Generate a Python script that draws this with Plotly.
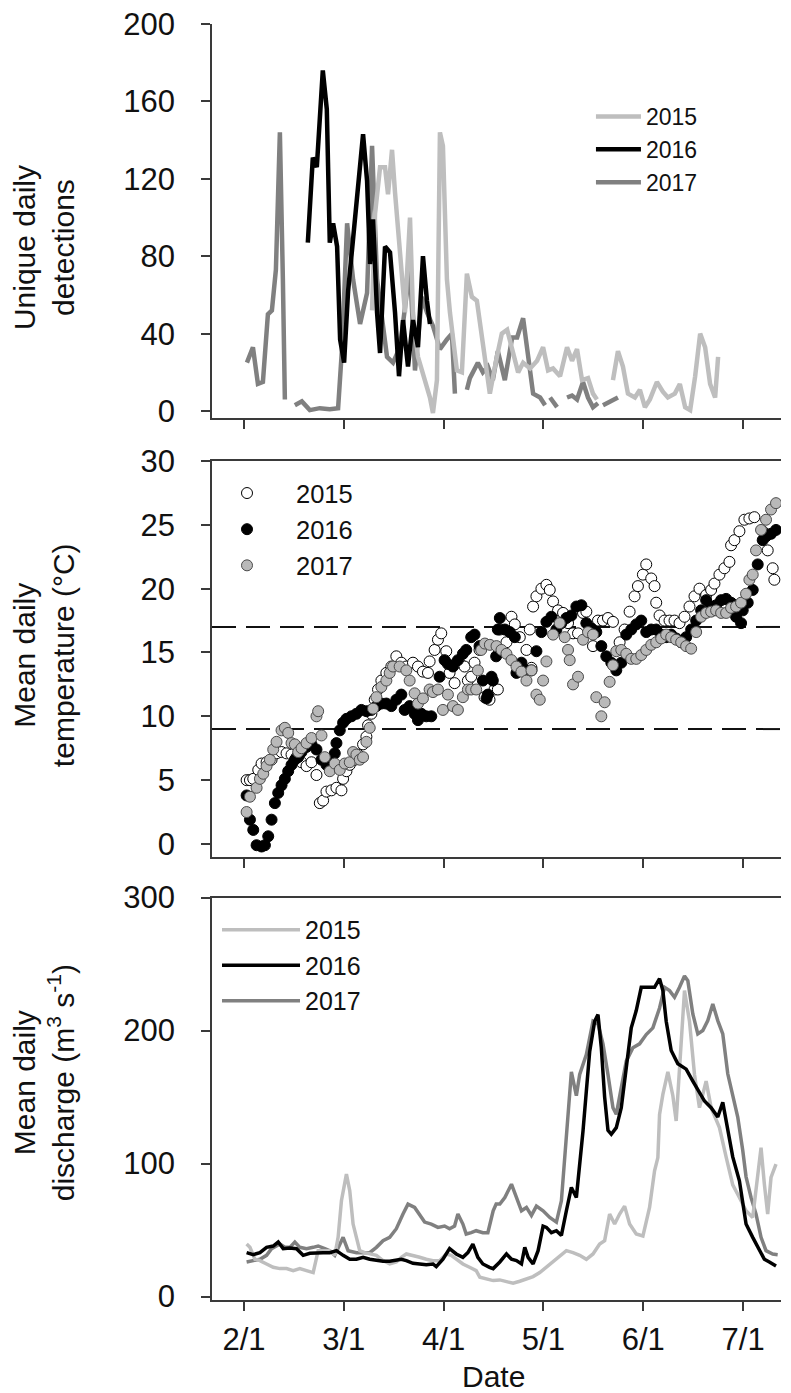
import plotly.graph_objects as go

# ---------------- categories / ticks ----------------
TICK_DAYS = [0, 30, 60, 90, 120, 150]          # days after Feb 1 (axis ticks are evenly spaced)
TICK_LABELS = ["2/1", "3/1", "4/1", "5/1", "6/1", "7/1"]
YEARS = ["2015", "2016", "2017"]

# ---------------- panel A: unique daily detections ----------------
det15_day = [38.5, 39.4, 40.9, 42.4, 43.3, 44.5, 45.4, 46.9, 48.4, 49.9, 50.8, 52.3, 54.4, 55.9, 56.8,
             58.0, 58.9, 59.8, 61.0, 61.9, 64.0, 65.5, 67.0, 68.5, 70.0, 71.8, 73.9, 76.0, 77.5, 79.1,
             80.9, 82.4, 83.9, 86.0, 88.1, 89.9, 91.4, 92.9, 95.0, 97.1, 98.6, 100.1, 101.6, 103.4,
             104.9, 106.1, None, 110.9, 112.4, 113.9, 115.4, 117.5, 119.0, 120.5, 122.0, 124.1, 125.9,
             127.4, 129.5, 131.0, 132.6, 134.1, 135.6, 137.1, 138.6, 140.1, 141.6, 142.5]
det15_val = [52, 102, 126, 126, 112, 135, 113, 82, 51, 100, 51, 28, 16, 7, -1,
             16, 144, 137, 68, 51, 21, 20, 71, 59, 57, 33, 9, 28, 40, 42,
             30, 20, 25, 22, 26, 33, 21, 22, 18, 33, 26, 32, 16, 17,
             9, 6, None, 16, 31, 23, 9, 7, 11, 2, 6, 15, 10,
             7, 9, 14, 2, 0.5, 18, 40, 33, 14, 7, 28]

det16_day = [19.2, 20.7, 21.9, 22.8, 23.7, 24.9, 25.8, 26.8, 28.0, 28.9, 30.1, 31.3, 32.8, 34.3, 35.8,
             37.0, 37.9, 38.8, 40.0, 40.9, 42.4, 43.9, 45.4, 46.6, 47.8, 49.3, 50.8, 52.3, 53.8, 55.0, 55.9]
det16_val = [87, 131, 126, 154, 176, 156, 87, 97, 85, 37, 25, 62, 88, 119, 143,
             119, 76, 99, 51, 30, 85, 82, 51, 18, 47, 23, 47, 33, 80, 57, 45]

det17_day = [0.9, 2.7, 4.2, 5.7, 7.2, 8.4, 9.6, 10.8, 11.7, 12.3, None,
             15.3, 17.4, 19.8, 22.8, 25.8, 28.3, 29.5, 31.0, 32.8, 34.9, 37.0, 38.5, 40.0, 41.5, 43.0,
             44.8, 46.9, 49.9, 51.4, 53.5, 55.0, 56.8, 58.9, 61.0, 62.5, 63.4, None,
             67.0, 67.9, 70.3, 71.8, 73.3, 74.8, 76.3, 78.4, 80.6, 82.1, 83.9, 85.4, 86.9, 89.0, 90.5, None,
             92.0, 94.1, None, 97.1, 98.6, 100.1, 101.9, 103.4, 104.9, 106.4, None, 107.9, 110.0, 112.4]
det17_val = [25, 33, 14, 15, 50, 52, 73, 144, 68, 6, None,
             3, 5, 0.5, 1.5, 1, 1.5, 33, 97, 68, 45, 61, 137, 68, 47, 28,
             25, 33, 74, 21, 59, 51, 44, 32, 37, 40, 9, None,
             11, 17, 25, 20, 23, 16, 31, 16, 38, 38, 48, 30, 9, 7, 3, None,
             7, 2, None, 7, 8, 6, 15, 7, 2, 4, None, 3, 5, 7]

# ---------------- panel B: mean daily temperature ----------------
tmp15_day = [0.8, 1.8, 2.8, 4.3, 5.3, 6.8, 8.3, 9.8, 11.3, 12.8, 14.3, 15.8, 17.3, 18.8, 20.3, 21.8, 22.8,
             23.8, 24.8, 26.3, 27.8, 29.3, 29.8, 30.8, 31.8, 33.3, 34.3, 35.8, 36.8, 37.3, 38.3, 39.3,
             40.3, 41.3, 42.8, 44.3, 45.8, 47.3, 48.8, 50.8, 52.3, 53.8, 55.3, 55.8, 57.3, 58.3, 59.3,
             60.8, 61.8, 63.3, 64.8, 66.3, 67.3, 68.3, 69.3, 70.8, 72.3, 73.8, 75.3, 76.3,
             76.9, 78.9, 80.4, 81.4, 82.9, 84.9, 85.9, 86.4, 86.9, 87.9, 89.4, 90.9, 91.9, 92.9, 94.4,
             95.9, 97.4, 98.9, 100.4, 101.9, 102.9, 104.9, 106.4, 107.9, 109.4, 110.9, 112.9, 114.4,
             115.9, 117.4, 118.4, 119.9, 120.9, 122.4, 123.4, 123.9, 124.9, 126.4, 127.9, 129.4, 130.9,
             132.4, 133.9, 135.4, 136.9, 138.9, 140.4, 141.4, 142.9, 144.4, 145.9, 146.4, 147.4, 148.9,
             150.4, 151.9, 153.4, 155.9, 157.4, 158.9, 159.4]
tmp15_val = [5.0, 5.0, 5.1, 5.8, 6.3, 6.4, 6.6, 7.1, 7.2, 7.1, 7.0, 6.8, 6.4, 6.1, 6.4, 5.4, 3.2,
             3.4, 4.1, 4.2, 4.4, 4.2, 5.1, 5.7, 6.2, 6.6, 7.0, 7.8, 8.4, 9.3, 10.2, 11.3,
             12.1, 12.8, 13.4, 13.9, 14.7, 14.2, 13.9, 14.2, 13.9, 13.5, 13.4, 14.3, 15.2, 16.0, 16.5,
             15.1, 13.4, 12.6, 14.2, 13.9, 12.8, 13.1, 14.2, 15.2, 11.5, 11.3, 12.1, 12.1,
             16.8, 15.8, 17.8, 17.2, 16.2, 15.2, 16.8, 13.8, 18.6, 19.4, 20.0, 20.3, 19.9, 19.0, 18.3,
             18.1, 17.3, 16.5, 16.5, 18.1, 18.2, 15.5, 17.5, 17.5, 17.7, 17.4, 15.8, 16.8,
             18.2, 19.4, 20.2, 21.1, 21.9, 20.8, 20.2, 18.9, 17.9, 17.5, 17.5, 17.5, 17.3,
             17.8, 18.6, 19.4, 20.0, 19.5, 19.9, 20.4, 21.1, 21.6, 22.1, 23.4, 23.8, 24.5,
             25.4, 25.5, 25.6, 24.5, 23.0, 21.6, 20.7]

tmp16_day = [0.8, 1.8, 2.8, 3.8, 5.3, 6.3, 7.3, 8.3, 9.3, 10.3, 11.3, 12.3, 13.3, 14.3, 15.3, 16.3, 17.3,
             18.8, 20.3, 21.8, 23.3, 24.8, 26.3, 27.3, 27.8, 28.8, 29.8, 30.8, 32.3, 33.8, 35.3, 36.8,
             38.3, 39.8, 41.3, 42.8, 44.3, 45.8, 47.3, 48.3, 49.8, 51.3, 52.3, 53.3, 54.8, 56.3, 58.8,
             60.3, 61.3, 62.8, 64.3, 65.8, 66.8, 68.3, 69.3, 70.8, 71.8, 72.9, 73.3, 74.4, 74.8, 75.8,
             76.3, 76.9, 78.4, 79.9, 81.4, 81.9, 83.4, 84.9, 86.4, 87.9, 89.4, 90.9, 92.4, 93.9, 95.4,
             96.9, 98.4, 99.9, 101.4, 102.9, 104.4, 105.9, 107.4, 108.9, 110.4, 111.9, 113.4, 114.9,
             116.4, 117.9, 119.4, 120.9, 122.4, 123.9, 125.4, 126.9, 128.4, 129.9, 131.4, 132.9, 134.4,
             135.9, 137.4, 138.9, 140.4, 141.9, 143.4, 144.9, 146.4, 147.9, 149.4, 149.9, 151.4, 152.9,
             154.4, 155.9, 156.9, 158.4, 159.9]
tmp16_val = [3.8, 1.9, 1.1, -0.1, -0.2, -0.1, 0.6, 1.9, 3.2, 4.0, 4.6, 5.1, 5.7, 6.2, 6.6, 6.8, 7.2,
             7.6, 7.8, 7.4, 6.6, 6.2, 6.6, 7.1, 7.9, 8.9, 9.5, 9.8, 10.0, 10.2, 10.5, 10.4,
             10.5, 10.8, 11.0, 11.0, 10.8, 11.3, 11.7, 10.5, 10.8, 10.2, 9.7, 10.2, 10.0, 10.0, 13.1,
             14.4, 14.1, 13.9, 14.4, 14.9, 15.2, 16.2, 16.4, 15.5, 12.8, 11.4, 11.7, 13.1, 12.8, 14.7,
             16.8, 17.7, 16.8, 16.6, 16.2, 13.4, 14.2, 13.6, 13.6, 15.1, 16.6, 17.4, 17.8, 16.8, 17.3,
             17.7, 17.9, 18.6, 18.7, 17.3, 16.9, 16.6, 15.5, 14.7, 14.2, 13.6, 14.2, 16.4,
             16.8, 17.2, 17.5, 16.6, 16.8, 16.8, 16.4, 16.2, 16.4, 16.1, 15.8, 16.2, 16.8,
             17.5, 18.3, 19.1, 18.6, 18.7, 19.1, 19.2, 18.9, 17.8, 17.3, 18.3, 18.9, 19.9,
             21.9, 23.8, 24.1, 24.3, 24.6]

tmp17_day = [0.8, 1.8, 3.8, 4.8, 5.8, 6.8, 7.8, 8.8, 9.8, 11.3, 12.3, 13.3, 14.3, 15.3, 16.3, 17.3, 18.8,
             20.3, 21.8, 22.3, 23.3, 24.3, 25.8, 27.3, 28.8, 30.3, 31.8, 32.8, 33.8, 34.8, 35.8, 36.8,
             37.8, 38.8, 39.8, 41.3, 42.8, 43.8, 44.8, 46.8, 48.8, 49.8, 51.3, 52.3, 53.8, 55.8, 56.8,
             58.3, 59.8, 61.3, 62.8, 64.3, 65.8, 67.3, 68.3, 69.8, 70.3, 71.3, 72.4, 73.9, 75.9, 77.4,
             78.9, 80.4, 81.9, 83.4, 84.9, 86.4, 87.9, 88.9, 89.9, 90.9, 92.9, 94.9, 96.4, 97.4, 97.9,
             98.9, 100.4, 101.9, 103.4, 104.9, 105.9, 107.4, 108.4, 109.9, 110.9, 111.9, 113.4, 114.9,
             116.4, 117.9, 119.4, 120.9, 122.4, 123.9, 125.4, 126.9, 128.4, 129.9, 131.4, 132.9, 134.4,
             135.9, 137.4, 138.9, 140.4, 141.9, 143.4, 144.9, 146.4, 147.9, 149.4, 150.9, 151.9, 152.9,
             153.9, 155.4, 156.9, 158.4, 159.9]
tmp17_val = [2.5, 3.7, 4.4, 5.1, 5.5, 6.1, 6.6, 7.4, 8.0, 8.9, 9.1, 8.7, 7.9, 7.8, 7.2, 7.5, 7.9,
             8.3, 10.0, 10.4, 8.5, 6.8, 5.7, 6.3, 5.8, 6.3, 6.4, 7.2, 7.0, 6.6, 6.8, 8.0,
             9.1, 10.6, 11.5, 12.3, 12.8, 13.4, 13.9, 13.9, 13.6, 12.8, 11.8, 11.0, 11.4, 12.1, 11.9,
             12.1, 10.5, 11.7, 10.8, 10.5, 11.5, 12.1, 12.1, 12.1, 13.6, 15.2, 15.7, 15.6, 15.5, 15.2,
             14.9, 14.4, 13.9, 13.5, 12.8, 13.6, 11.7, 11.3, 12.8, 14.3, 16.4, 17.3, 16.2, 15.2, 14.4,
             12.5, 13.1, 16.0, 16.6, 16.4, 11.5, 10.0, 11.1, 12.7, 14.0, 15.1, 15.2, 14.9,
             14.5, 14.5, 14.8, 15.2, 15.6, 15.8, 16.1, 16.4, 16.2, 16.0, 15.8, 15.5, 15.3,
             16.6, 17.8, 18.1, 18.2, 18.3, 18.1, 18.1, 18.5, 18.6, 18.9, 19.6, 20.7, 21.1,
             23.0, 24.6, 25.4, 26.2, 26.7]

TEMP_THRESHOLDS = [9, 17]

# ---------------- panel C: mean daily discharge ----------------
dis15_day = [0.8, 1.8, 3.3, 4.8, 6.8, 8.8, 10.8, 12.8, 14.8, 16.8, 18.8, 20.8, 22.3, 23.8, 25.8, 27.3,
             28.3, 29.3, 30.8, 31.8, 32.8, 33.8, 34.8, 36.3, 37.8, 39.8, 41.8, 43.8, 45.8, 47.3, 48.8,
             50.8, 52.8, 54.8, 56.8, 58.8, 60.8, 62.3, 63.8, 65.8, 67.8, 69.8, 70.9, 72.9, 74.9, 76.9,
             78.9, 80.9, 82.9, 84.9, 86.9, 88.9, 90.9, 92.9, 94.9, 96.9, 98.9, 100.9, 102.9, 104.9,
             106.9, 108.4, 109.9, 111.4, 112.9, 114.4, 115.9, 117.9, 119.9, 121.9, 123.4, 124.4, 124.9,
             125.9, 127.4, 128.9, 129.9, 130.9, 131.9, 132.4, 133.9, 135.4, 136.9, 138.9, 140.4, 142.9,
             144.9, 146.9, 148.9, 150.9, 152.9, 154.4, 155.4, 156.4, 157.4, 158.4, 159.9]
dis15_val = [39.5, 37, 28, 27, 24.5, 22, 21, 21, 19.5, 21, 19.5, 18, 34.5, 34.5, 34.5, 31,
             44.5, 72, 92, 79.5, 54.5, 44.5, 34.5, 33, 32, 31, 27, 24.5, 26, 29.5, 32,
             31, 29.5, 28, 27, 27, 32, 31, 28, 24.5, 22, 19.5, 14.5, 13, 12, 12.5,
             11, 10, 11.5, 13, 15, 18, 22, 26, 30, 34.5, 33, 31, 28, 32,
             39.5, 42, 62, 54.5, 62, 68, 54.5, 47, 45.5, 67, 94.5, 104.5, 137,
             152, 169, 151, 132, 172, 217, 230, 207, 167, 142, 162, 142, 127,
             105, 84, 74.5, 64.5, 59.5, 89.5, 112, 84.5, 62, 89.5, 99.5]

dis16_day = [0.8, 2.8, 4.8, 6.8, 8.8, 10.3, 11.8, 13.8, 15.8, 17.8, 19.8, 21.8, 23.8, 25.8, 27.8, 29.8,
             31.8, 33.8, 35.8, 37.8, 39.8, 41.8, 43.8, 45.8, 47.3, 48.8, 50.8, 52.8, 54.8, 56.8, 57.8,
             59.8, 61.8, 63.8, 65.8, 67.3, 68.8, 70.3, 71.8, 73.8, 74.9, 76.9, 78.9, 80.4, 81.9, 83.4,
             84.4, 85.4, 86.9, 88.4, 89.9, 90.9, 92.4, 93.9, 95.4, 96.9, 98.4, 99.9, 100.9, 101.9, 102.9,
             103.9, 105.4, 106.4, 107.4, 108.4, 109.4, 110.4, 111.9, 113.4, 114.9, 116.4, 117.9, 119.4,
             120.9, 122.4, 123.4, 124.9, 125.9, 126.9, 128.4, 130.4, 132.9, 134.9, 136.4, 138.4, 140.4,
             142.4, 143.9, 145.4, 146.9, 148.9, 149.9, 150.9, 152.9, 154.9, 156.4, 157.9, 159.9]
dis16_val = [33, 31.5, 33, 37, 38, 41, 36, 36.5, 36, 31, 32.5, 33, 33, 33, 34.5, 31,
             28, 28, 29.5, 28, 27, 26.5, 26.5, 27, 28, 27, 25, 24.5, 24, 24.5, 22.5,
             28, 36, 32, 29.5, 33, 39.5, 29.5, 24.5, 22, 21, 26, 32, 28, 27, 24.5,
             37, 29.5, 24.5, 34.5, 53, 52, 48, 49.5, 46, 64.5, 82, 74.5, 97, 124.5, 154.5,
             184, 207, 212, 187, 150, 125, 122, 127, 142, 172, 202, 215, 232.5,
             232.5, 232.5, 232.5, 239, 230, 207, 185, 175, 171, 162, 156, 147, 142,
             135, 146, 127, 105, 87, 70, 54.5, 44.5, 34.5, 28, 26, 23]

dis17_day = [0.8, 2.8, 4.8, 6.8, 8.3, 10.8, 12.3, 13.8, 15.3, 16.8, 18.8, 20.8, 22.3, 24.3, 25.8, 27.3,
             29.8, 31.3, 33.8, 35.8, 37.8, 39.8, 41.8, 43.8, 45.8, 47.8, 49.3, 51.3, 52.8, 54.3, 56.3,
             58.3, 60.3, 61.8, 63.3, 64.3, 65.8, 66.8, 68.3, 69.8, 71.8, 73.3, 74.9, 75.8, 76.9, 78.4,
             80.4, 81.9, 83.4, 84.9, 86.4, 87.9, 89.9, 91.9, 93.9, 95.4, 96.4, 97.4, 98.4, 99.9, 100.9,
             102.9, 104.9, 106.4, 107.9, 109.4, 110.9, 111.9, 113.4, 114.9, 116.9, 118.9, 120.9, 122.9,
             124.9, 126.4, 127.9, 129.4, 130.9, 132.4, 133.4, 134.9, 136.4, 137.9, 139.4, 140.9, 142.4,
             143.9, 145.4, 146.9, 148.4, 149.9, 150.9, 152.4, 153.9, 155.4, 156.9, 158.9, 160.4]
dis17_val = [26, 27, 28, 31, 36, 39.5, 37, 37, 41, 37, 36, 37, 38, 36, 34.5, 31,
             44.5, 34.5, 33, 33, 33, 37, 42, 44.5, 51, 62, 69.5, 67, 62, 56, 54.5,
             52, 53, 51, 53, 62, 54.5, 47, 48, 49.5, 48, 48, 64.5, 69.5, 69.5, 74.5,
             84.5, 74.5, 64.5, 67, 61, 68, 64.5, 59.5, 56, 72, 104.5, 137, 169, 151, 167,
             182, 207, 205, 190, 167, 142, 137, 157, 177, 187, 190, 197, 202,
             217, 232.5, 230, 225, 232.5, 241, 237.5, 212.5, 197.5, 200, 207.5, 220, 207.5,
             197.5, 167.5, 152.5, 135, 110, 90, 74.5, 62, 44.5, 34.5, 32, 31.5]

# ---------------- styling ----------------
FONT = "Liberation Sans, Arial, sans-serif"
C15, C16, C17 = "#bebebe", "#000000", "#808080"
AX = "#3a3a3a"
XR = [-9.6, 161.4]

fig = go.Figure()

# panel A lines (drawn 2017, 2015, 2016 so black sits on top)
for name, d, v, c, rank in [("2017", det17_day, det17_val, C17, 3), ("2015", det15_day, det15_val, C15, 1),
                            ("2016", det16_day, det16_val, C16, 2)]:
    fig.add_trace(go.Scatter(x=d, y=v, mode="lines", name=name, line=dict(color=c, width=4.5),
                             xaxis="x", yaxis="y", legend="legend", legendrank=rank))

# panel B markers
for name, d, v, fill, edge in [("2015", tmp15_day, tmp15_val, "#ffffff", "#000000"),
                               ("2016", tmp16_day, tmp16_val, "#000000", "#000000"),
                               ("2017", tmp17_day, tmp17_val, "#b9b9b9", "#4a4a4a")]:
    fig.add_trace(go.Scatter(x=d, y=v, mode="markers", name=name,
                             marker=dict(symbol="circle", size=11, color=fill, line=dict(color=edge, width=1)),
                             xaxis="x2", yaxis="y2", legend="legend2"))

# panel C lines
for name, d, v, c, rank in [("2017", dis17_day, dis17_val, C17, 3), ("2015", dis15_day, dis15_val, C15, 1),
                            ("2016", dis16_day, dis16_val, C16, 2)]:
    fig.add_trace(go.Scatter(x=d, y=v, mode="lines", name=name, line=dict(color=c, width=3.5),
                             xaxis="x3", yaxis="y3", legend="legend3", legendrank=rank))

for t in TEMP_THRESHOLDS:
    fig.add_shape(type="line", xref="x2 domain", yref="y2", x0=0, x1=1, y0=t, y1=t,
                  line=dict(color="#111111", width=2, dash="24px,10px"), layer="below")

axc = dict(showline=True, linecolor=AX, linewidth=1.5, ticks="outside", ticklen=9, tickwidth=1.5,
           tickcolor=AX, showgrid=False, zeroline=False, automargin=False, ticklabeloverflow="allow",
           tickfont=dict(family=FONT, size=31, color="#111"))

TITLE_FONT = dict(family=FONT, size=30, color="#111")

fig.update_layout(
    width=783, height=1385,
    margin=dict(l=204, r=10, t=16, b=93, autoexpand=False),
    paper_bgcolor="white", plot_bgcolor="white",
    font=dict(family=FONT, color="#111"),
    xaxis=dict(domain=[0, 1], range=XR, anchor="y", tickvals=TICK_DAYS, showticklabels=False, **axc),
    yaxis=dict(domain=[0.6912, 1.0], range=[-3.6, 200], anchor="x", tickvals=[0, 40, 80, 120, 160, 200],
               ticklabelstandoff=20, **axc),
    xaxis2=dict(domain=[0, 1], range=XR, anchor="y2", tickvals=TICK_DAYS, showticklabels=False, mirror=True, **axc),
    yaxis2=dict(domain=[0.3472, 0.6575], range=[-1.02, 30], anchor="x2", tickvals=[0, 5, 10, 15, 20, 25, 30],
                ticklabelstandoff=20, **axc),
    xaxis3=dict(domain=[0, 1], range=XR, anchor="y3", tickvals=TICK_DAYS, ticktext=TICK_LABELS, mirror=True,
                ticklabelstandoff=2, **axc),
    yaxis3=dict(domain=[0, 0.3154], range=[-2.6, 300], anchor="x3", tickvals=[0, 100, 200, 300],
                ticklabelstandoff=20, **axc),
    legend=dict(x=0.666, y=0.9444, xanchor="left", yanchor="top", font=dict(family=FONT, size=23),
                bgcolor="rgba(0,0,0,0)", itemwidth=45, tracegroupgap=0),
    legend2=dict(x=-0.0246, y=0.6505, xanchor="left", yanchor="top", font=dict(family=FONT, size=25.5),
                 bgcolor="rgba(0,0,0,0)", itemwidth=88, tracegroupgap=0),
    legend3=dict(x=0.0088, y=0.308, xanchor="left", yanchor="top", font=dict(family=FONT, size=25),
                 bgcolor="rgba(0,0,0,0)", itemwidth=78, tracegroupgap=0),
    annotations=[
        dict(text="Unique daily<br>detections", xref="paper", yref="paper", x=-0.295, y=0.8245,
             textangle=-90, showarrow=False, xanchor="center", yanchor="middle", font=TITLE_FONT),
        dict(text="Mean daily<br>temperature (°C)", xref="paper", yref="paper", x=-0.295, y=0.5055,
             textangle=-90, showarrow=False, xanchor="center", yanchor="middle", font=TITLE_FONT),
        dict(text="Mean daily<br>discharge (m<sup>3</sup> s<sup>-1</sup>)", xref="paper", yref="paper",
             x=-0.295, y=0.170, textangle=-90, showarrow=False, xanchor="center", yanchor="middle",
             font=TITLE_FONT),
        dict(text="Date", xref="paper", yref="paper", x=0.494, y=-0.0603, showarrow=False,
             xanchor="center", yanchor="middle", font=dict(family=FONT, size=30, color="#111")),
    ],
)

fig.write_html("out.html")
